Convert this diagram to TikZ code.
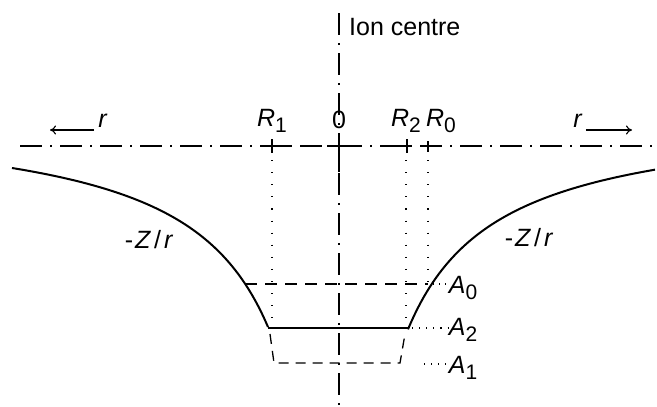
\documentclass[tikz,border=0pt]{standalone}
\usepackage{fontspec}
\setmainfont{Liberation Sans}
\usetikzlibrary{arrows.meta}
\newcommand\lsub[1]{\raisebox{-0.45ex}{\fontsize{21}{21}\selectfont #1}}
\newcommand\zr{-\hspace{2pt}\textit{Z}\hspace{3pt}/\hspace{3pt}\textit{r}}
\begin{document}
\begin{tikzpicture}[x=1pt,y=-1pt,
  lbl/.style={inner sep=0pt,font=\fontsize{25}{29}\selectfont},
  axisline/.style={line width=1.1pt,dash pattern=on 22pt off 8pt on 2pt off 8pt},
  dotline/.style={line width=1.1pt,dash pattern=on 1.1pt off 11pt},
  dashline/.style={line width=1.3pt,dash pattern=on 12pt off 8pt},
  curve/.style={line width=2pt},
  tick/.style={line width=1.1pt},
  arr/.style={line width=1.1pt,-{To[length=6pt,width=9pt]}}]
\useasboundingbox (0,0) rectangle (657,407);
% axes
\coordinate (hl) at (20,146);
\coordinate (hr) at (657,146);
\coordinate (vt) at (339,5);
\coordinate (vb) at (339,407);
\draw[axisline] (hl) -- (hr);
\draw[axisline,dash phase=-8pt] (vt) -- (vb);
% ion centre
\node[lbl,anchor=west] (ion) at (349,27) {Ion centre};
% ticks
\coordinate (t1a) at (272,139); \coordinate (t1b) at (272,153);
\coordinate (t0a) at (339,140); \coordinate (t0b) at (339,172);
\coordinate (t2a) at (407,139); \coordinate (t2b) at (407,153);
\coordinate (t3a) at (428,141); \coordinate (t3b) at (428,152);
\coordinate (h1a) at (262,146); \coordinate (h1b) at (292,146);
\coordinate (h0a) at (327,146); \coordinate (h0b) at (353,146);
\coordinate (h2a) at (396,146); \coordinate (h2b) at (412,146);
\draw[tick] (t1a) -- (t1b); \draw[tick] (h1a) -- (h1b);
\draw[tick] (t0a) -- (t0b); \draw[tick] (h0a) -- (h0b);
\draw[tick] (t2a) -- (t2b); \draw[tick] (h2a) -- (h2b);
\draw[tick] (t3a) -- (t3b);
% labels on axis
\node[lbl] (R1) at (272,121) {\textit{R}\lsub{1}};
\node[lbl] (O) at (339,120) {0};
\node[lbl] (R2) at (406,121) {\textit{R}\lsub{2}};
\node[lbl] (R0) at (441,121) {\textit{R}\lsub{0}};
% r arrows
\node[lbl] (rl) at (103,121) {\textit{r}};
\coordinate (rlend) at (50,130);
\draw[arr] (rl.west |- rlend) ++(-4,0) coordinate (rls) -- (rlend);
\node[lbl] (rr) at (578,121) {\textit{r}};
\coordinate (rrend) at (632,130);
\draw[arr] (rr.east |- rrend) ++(3,0) coordinate (rrs) -- (rrend);
% dotted verticals
\coordinate (d1a) at (272,160); \coordinate (d1b) at (272,325);
\coordinate (d2a) at (406,160); \coordinate (d2b) at (406,325);
\coordinate (d3a) at (428,160); \coordinate (d3b) at (428,282);
\draw[dotline] (d1a) -- (d1b);
\draw[dotline] (d2a) -- (d2b);
\draw[dotline] (d3a) -- (d3b);
% curves  -Z/r
\draw[curve] plot[domain=71:327,samples=80] ({339-\x},{111.1+197.74/((\x+20.6)/100)});
\draw[curve] plot[domain=70:317,samples=80] ({338+\x},{111.1+197.74/((\x+20.6)/100)});
\node[lbl] (zl) at (149,240) {\zr};
\node[lbl] (zr) at (529,238) {\zr};
% levels
\coordinate (a0l) at (245,284); \coordinate (a0r) at (427,284);
\draw[dashline] (a0l) -- (a0r);
\coordinate (a2l) at (268,328); \coordinate (a2r) at (408,328);
\draw[curve] (a2l) -- (a2r);
\coordinate (a1a) at (270,334); \coordinate (a1b) at (274,363);
\coordinate (a1c) at (400,363); \coordinate (a1d) at (405,334);
\draw[dashline,dash pattern=on 10pt off 7pt] (a1a) -- (a1b) -- (a1c) -- (a1d);
\node[lbl] (A0) at (463,288) {\textit{A}\lsub{0}};
\node[lbl] (A2) at (463,330) {\textit{A}\lsub{2}};
\node[lbl] (A1) at (463,368) {\textit{A}\lsub{1}};
\draw[dotline,dash pattern=on 1.1pt off 5pt] (a0r) -- (A0.west |- a0r);
\draw[dotline,dash pattern=on 1.1pt off 6pt] (a2r) ++(4,0) -- (A2.west |- a2r);
\coordinate (a1p) at (424,364);
\draw[dotline,dash pattern=on 1.1pt off 6pt] (a1p) -- (A1.west |- a1p);
\end{tikzpicture}
\end{document}
